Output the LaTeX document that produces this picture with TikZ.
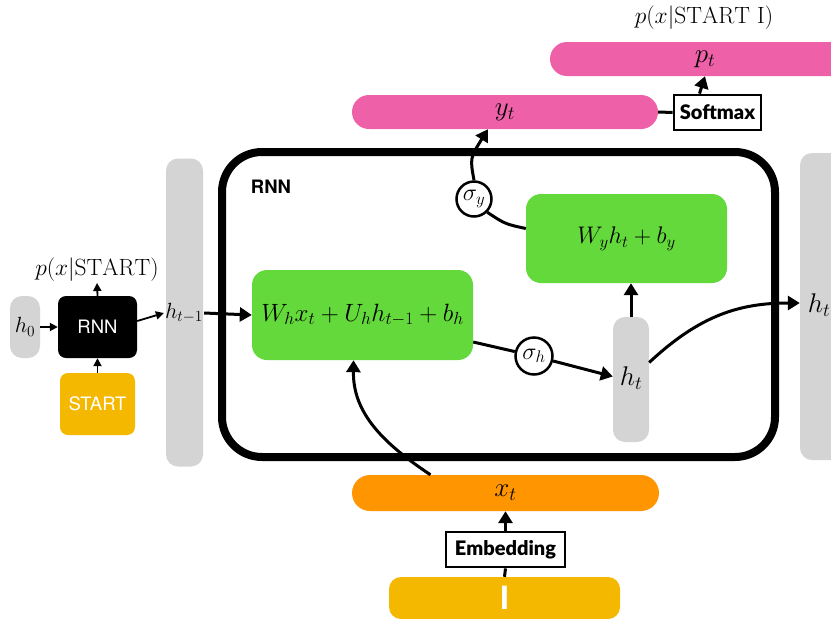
\RequirePackage{fix-cm}
\documentclass[tikz,border=0pt]{standalone}
\usepackage{fontspec}
\usetikzlibrary{arrows.meta,calc}
\newfontfamily\hvfont{TeX Gyre Heros}
\newfontfamily\latofont{Lato}[BoldFont={Lato Black}]

\definecolor{barGray}{HTML}{D4D4D4}
\definecolor{layerGreen}{HTML}{63D93B}
\definecolor{outPink}{HTML}{EE60A8}
\definecolor{embOrange}{HTML}{FF9500}
\definecolor{tokGold}{HTML}{F5B800}

\tikzset{
  vec/.style={fill=barGray, rounded corners=12pt, inner sep=0pt},
  pinkbar/.style={fill=outPink, rounded corners=17pt, inner sep=0pt},
  layerbox/.style={fill=layerGreen, rounded corners=15pt, inner sep=0pt},
  actnode/.style={circle, draw, line width=2.5pt, fill=white, minimum size=35pt, inner sep=0pt},
  labbox/.style={draw, line width=2.8pt, fill=white, inner sep=0pt,
    font=\latofont\bfseries\fontsize{20}{22}\selectfont},
  smallmath/.style={inner sep=1pt, font=\fontsize{22}{26}\selectfont},
  probmath/.style={inner sep=1pt, font=\fontsize{23.5}{26}\selectfont},
  bigmath/.style={inner sep=1pt, font=\fontsize{27}{30}\selectfont},
  arrS/.style={-{Triangle[length=8pt,width=8pt]}, line width=1.8pt},
  arrL/.style={-{Triangle[length=12pt,width=14pt]}, line width=3pt},
  plainL/.style={line width=3pt},
}

\begin{document}
\begin{tikzpicture}[x=1pt,y=-1pt]
\clip (0,0) rectangle (831,619);
\fill[white] (0,0) rectangle (831,619);

% ---- first step: h0 and START feed an RNN cell ----
\node[vec, minimum width=30pt, minimum height=62pt] (h0) at (25,327) {};
\node[smallmath] (h0lab) at (25,327) {$h_0$};
\node[fill=black, rounded corners=8pt, minimum width=79pt, minimum height=62pt,
      text=white, font=\hvfont\fontsize{18.5}{20}\selectfont] (rnn0) at (97.5,327) {RNN};
\node[fill=tokGold, rounded corners=8pt, minimum width=75pt, minimum height=62pt,
      text=white, font=\hvfont\fontsize{18.5}{20}\selectfont] (start) at (97.5,404) {START};
\node[probmath] (pstart) at (97,270) {$p(x|\mathrm{START})$};

% ---- hidden state vectors ----
\node[vec, minimum width=37pt, minimum height=308pt] (hprev) at (184.5,312.5) {};
\node[smallmath] (hprevlab) at (184,313) {$h_{t-1}$};
\node[vec, minimum width=62pt, minimum height=307pt] (hnext) at (831,306.5) {};
\node[bigmath] (hnextlab) at (819,305) {$h_t$};

% ---- RNN cell frame ----
\node[draw, line width=8pt, rounded corners=40pt, minimum width=553pt,
      minimum height=305pt, inner sep=0pt] (frame) at (498.5,304.5) {};
\node[font=\hvfont\bfseries\fontsize{18.5}{20}\selectfont, inner sep=0pt] (rnnlab) at (271,187) {RNN};

% ---- affine layers ----
\node[layerbox, minimum width=221pt, minimum height=90pt,
      font=\fontsize{25}{28}\selectfont] (g1) at (362.5,315) {$W_hx_t+U_hh_{t-1}+b_h$};
\node[layerbox, minimum width=201pt, minimum height=89pt,
      font=\fontsize{24}{28}\selectfont] (g2) at (626.5,238.5) {$W_yh_t+b_y$};

% ---- activations ----
\node[actnode, font=\fontsize{24}{26}\selectfont] (sigy) at (474,199) {$\sigma_y$};
\node[actnode, minimum size=37pt, font=\fontsize{24}{26}\selectfont] (sigh) at (534,356) {$\sigma_h$};

% ---- new hidden state inside the cell ----
\node[vec, minimum width=36pt, minimum height=125pt] (htbar) at (631,379.5) {};
\node[bigmath] (htlab) at (631,378) {$h_t$};

% ---- outputs ----
\node[pinkbar, minimum width=306pt, minimum height=34pt, font=\fontsize{27}{30}\selectfont] (yt) at (505,112) {$y_t$};
\node[pinkbar, minimum width=310pt, minimum height=34pt, font=\fontsize{27}{30}\selectfont] (pt) at (705,59) {$p_t$};
\node[labbox, minimum width=87pt, minimum height=35pt] (soft) at (717.5,112.5) {Softmax};
\node[probmath] (ptlab) at (704,18) {$p(x|\mathrm{START\ I})$};

% ---- input ----
\node[fill=embOrange, rounded corners=18pt, minimum width=307pt, minimum height=36pt,
      inner sep=0pt, font=\fontsize{27}{30}\selectfont] (xt) at (505.5,493) {$x_t$};
\node[labbox, minimum width=119pt, minimum height=35pt] (emb) at (505.5,549.5) {Embedding};
\node[fill=tokGold, rounded corners=12pt, minimum width=231pt, minimum height=42pt,
      inner sep=0pt, text=white, font=\hvfont\bfseries\fontsize{32}{34}\selectfont] (itok) at (504.5,598) {I};

% ---- connectors: first step ----
\draw[arrS] (h0.east) -- (rnn0.west);
\draw[arrS] (rnn0.north) -- (pstart.south);
\draw[arrS] (start.north) -- (rnn0.south);
\draw[arrS] ([yshift=6pt]rnn0.east) -- (hprevlab.west);

% ---- connectors: inside the cell ----
\draw[arrL] (hprevlab.east) -- (g1.west);
\draw[arrL] ([xshift=-75pt]xt.north) .. controls (378,440) and (353,410) .. ([xshift=-9pt]g1.south);
\draw[plainL] ([yshift=-27pt]g1.east) -- (sigh);
\draw[arrL] (sigh) -- ([yshift=3pt]htbar.west);
\draw[arrL] (htbar.north) -- (htbar.north |- g2.south);
\draw[arrL] ([yshift=17pt]htbar.east) .. controls (700,315) and (740,303) .. ([yshift=3.5pt]hnext.west);
\draw[plainL] ([yshift=10pt]g2.west) .. controls (505,224) .. (sigy.south east);
\draw[arrL] (sigy.north) .. controls (470,158) .. ([xshift=-17pt]yt.south);

% ---- connectors: outputs and input ----
\draw[plainL] (yt.east) -- (soft.west);
\draw[arrL] ([xshift=-18pt]soft.north) -- (pt.south);
\draw[arrL] (emb.north) -- (xt.south);
\draw[plainL] (emb.south) -- (itok.north);
\end{tikzpicture}
\end{document}
